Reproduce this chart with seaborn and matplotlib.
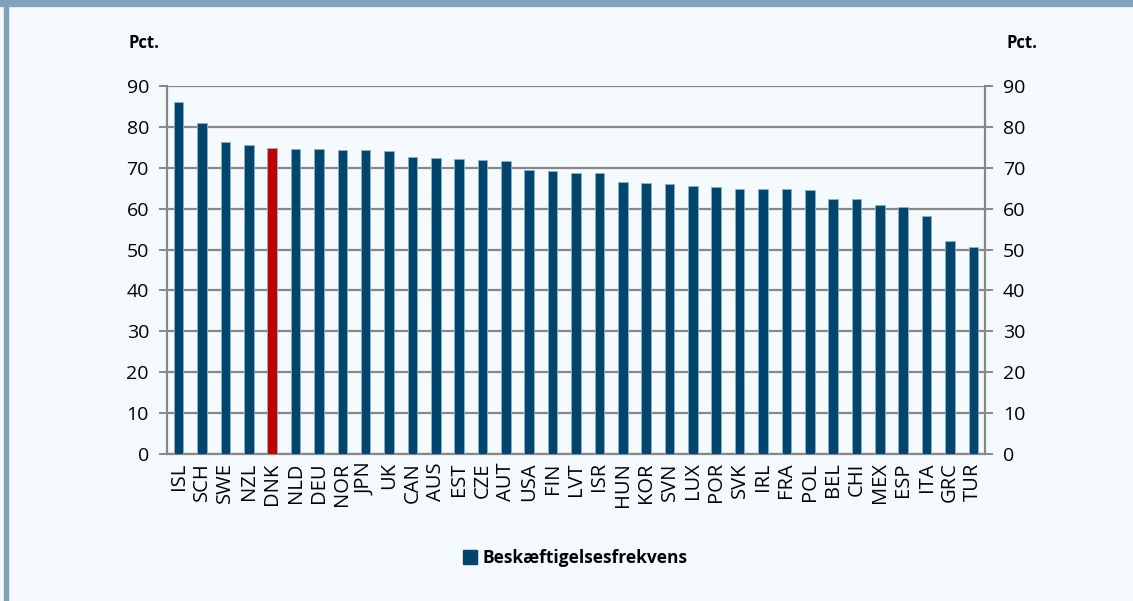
import matplotlib
matplotlib.use("Agg")
import matplotlib.pyplot as plt
import seaborn as sns
import pandas as pd
from matplotlib.patches import Rectangle
from matplotlib.lines import Line2D

# data
countries = ["ISL", "SCH", "SWE", "NZL", "DNK", "NLD", "DEU", "NOR", "JPN", "UK",
             "CAN", "AUS", "EST", "CZE", "AUT", "USA", "FIN", "LVT", "ISR", "HUN",
             "KOR", "SVN", "LUX", "POR", "SVK", "IRL", "FRA", "POL", "BEL", "CHI",
             "MEX", "ESP", "ITA", "GRC", "TUR"]
rates = [86.1, 80.9, 76.2, 75.6, 74.8, 74.7, 74.7, 74.3, 74.3, 74.1,
         72.6, 72.5, 72.1, 72.0, 71.7, 69.4, 69.3, 68.7, 68.6, 66.5,
         66.2, 65.9, 65.6, 65.3, 64.9, 64.8, 64.7, 64.6, 62.4, 62.3,
         60.9, 60.5, 58.2, 52.1, 50.7]
highlight = "DNK"
series_name = "Beskæftigelsesfrekvens"
yticks = [0, 10, 20, 30, 40, 50, 60, 70, 80, 90]

NAVY = "#00456D"
RED = "#C00000"
BG = "#F5FAFE"
FRAME = "#7FA3BA"
GRID = "#878787"

sns.set_style("white")
plt.rcParams["font.family"] = ["Open Sans", "DejaVu Sans"]
plt.rcParams["text.color"] = "black"

df = pd.DataFrame({"country": countries, "rate": rates})
df["grp"] = ["hl" if c == highlight else "base" for c in countries]

fig = plt.figure(figsize=(11.33, 6.01), dpi=100, facecolor=BG)
ax = fig.add_axes([0.1474, 0.2446, 0.722, 0.6124])
ax.set_facecolor(BG)

sns.barplot(data=df, x="country", y="rate", hue="grp",
            palette={"base": NAVY, "hl": RED}, dodge=False, width=0.41,
            saturation=1, edgecolor="#8FB0C6", linewidth=0.6, legend=False,
            ax=ax, zorder=3)

ax.set_ylim(0, 90)
ax.set_xlim(-0.5, len(countries) - 0.5)
ax.set_yticks(yticks)
ax.yaxis.grid(True, color=GRID, linewidth=1.6, zorder=0)
ax.set_axisbelow(True)
ax.set_xlabel("")
ax.set_ylabel("")

for s in ["left", "right", "bottom"]:
    ax.spines[s].set_color(GRID)
    ax.spines[s].set_linewidth(1.6)
ax.spines["top"].set_visible(False)

ax.tick_params(axis="y", length=6, width=1.4, color=GRID, labelcolor="black",
               labelsize=14, pad=7)
ax.tick_params(axis="x", which="major", length=0, labelsize=14.5, pad=6,
               labelcolor="black", labelrotation=90)
ax.set_xticks([i - 0.5 for i in range(len(countries) + 1)], minor=True)
ax.tick_params(axis="x", which="minor", length=6, width=1.4, color=GRID)

ax2 = ax.twinx()
ax2.set_ylim(0, 90)
ax2.set_yticks(yticks)
for s in ax2.spines.values():
    s.set_visible(False)
ax2.tick_params(axis="y", length=6, width=1.4, color=GRID, labelcolor="black",
                labelsize=14, pad=7)

fig.text(0.113, 0.928, "Pct.", fontsize=12, fontweight="bold", ha="left", va="center")
fig.text(0.888, 0.928, "Pct.", fontsize=12, fontweight="bold", ha="left", va="center")

handle = Line2D([], [], marker="s", color="none", markerfacecolor=NAVY,
                markeredgecolor=NAVY, markersize=10)
fig.legend([handle], [series_name], loc="center", bbox_to_anchor=(0.508, 0.072),
           frameon=False, handlelength=0.8, handletextpad=0.3,
           prop={"size": 12.5, "weight": "bold"})

# frame strips from the source layout
fig.patches.append(Rectangle((0, 1 - 6 / 601), 1, 6 / 601, transform=fig.transFigure,
                             color=FRAME, zorder=0))
fig.patches.append(Rectangle((4 / 1133, 0), 4 / 1133, 1, transform=fig.transFigure,
                             color=FRAME, zorder=0))

fig.savefig("out.png", dpi=100, facecolor=BG)
